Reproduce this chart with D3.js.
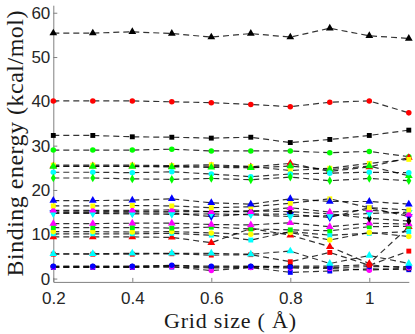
<!DOCTYPE html>
<html>
<head>
<meta charset="utf-8">
<script src="https://cdn.jsdelivr.net/npm/d3@7"></script>
<style>
  body { margin: 0; background: #fff; }
  .axis path, .axis line { stroke: #808080; }
  .axis text { font-family: "Liberation Sans", Arial, sans-serif; font-size: 17px; fill: #262626; }
  .title { font-family: "Liberation Serif", "DejaVu Serif", serif; fill: #1a1a1a; }
</style>
</head>
<body>
<script>
// grid sizes (x values)
const gridSize = [0.2, 0.3, 0.4, 0.5, 0.6, 0.7, 0.8, 0.9, 1.0, 1.1];

// binding energies, one array per complex
const blackTri   = [55.4, 55.4, 55.7, 55.3, 54.5, 55.3, 54.5, 56.5, 54.8, 54.2];
const redCircle  = [40.1, 40.1, 40.1, 39.9, 39.7, 39.3, 38.8, 39.8, 40.1, 37.4];
const blackSq    = [32.3, 32.3, 32.0, 31.9, 31.7, 31.9, 30.7, 31.4, 32.3, 33.5];
const greenCircle= [29.0, 29.0, 29.0, 29.2, 28.8, 28.8, 28.8, 28.4, 28.7, 27.5];
const redTri1    = [25.4, 25.4, 25.4, 25.3, 25.4, 25.2, 26.0, 24.2, 25.2, 27.3];
const yellowSq1  = [25.6, 25.6, 25.6, 25.5, 25.7, 25.3, 24.4, 24.9, 26.0, 26.9];
const greenTri   = [25.3, 25.3, 25.3, 25.2, 25.1, 25.0, 25.4, 24.6, 25.4, 23.2];
const cyanCircle = [24.0, 24.0, 23.9, 24.1, 23.6, 23.0, 23.6, 23.8, 24.0, 23.9];
const greenDia   = [22.7, 22.7, 22.5, 22.4, 22.6, 22.3, 22.9, 22.1, 22.6, 22.1];
const blueSq     = [2.5, 2.5, 2.5, 2.6, 2.4, 2.5, 1.4, 1.7, 2.2, 2.0];
const blackCircle= [2.7, 2.7, 2.7, 2.9, 2.6, 2.7, 2.8, 2.8, 3.1, 2.3];
const magCircle  = [2.6, 2.6, 2.6, 2.7, 1.8, 2.5, 2.4, 2.3, 1.9, 2.4];
const blueCircle = [2.8, 2.8, 2.8, 3.0, 2.8, 2.8, 2.6, 2.5, 2.7, 2.7];
const redSq      = [5.5, 5.5, 5.5, 5.6, 5.3, 5.4, 3.8, 5.9, 3.0, 6.2];
const cyanTri    = [5.6, 5.6, 5.7, 5.7, 5.7, 5.5, 6.2, 3.4, 5.2, 3.4];
const redTri2    = [9.4, 9.4, 9.4, 9.3, 8.1, 11.3, 9.8, 7.2, 3.4, 11.7];
const cyanSq     = [10.1, 10.1, 10.1, 10.2, 9.8, 8.7, 10.6, 9.8, 10.2, 10.6];
const yellowCirc = [10.6, 10.6, 10.5, 10.6, 10.3, 10.0, 10.4, 8.7, 10.4, 9.5];
const greenSq    = [11.5, 11.5, 11.5, 11.4, 11.6, 11.2, 11.0, 10.8, 11.7, 11.8];
const magTri2    = [12.4, 12.4, 12.5, 12.5, 12.2, 12.1, 12.6, 11.7, 12.5, 12.3];
const blueTriDn  = [14.9, 14.9, 14.8, 14.8, 14.0, 14.6, 14.5, 13.8, 16.0, 14.0];
const cyanTriDn  = [14.7, 14.7, 14.6, 14.5, 14.6, 14.4, 14.0, 14.2, 14.7, 15.0];
const blackDia   = [15.2, 15.2, 15.1, 15.1, 15.1, 15.3, 15.1, 14.6, 13.6, 13.0];
const magTri1    = [15.4, 15.4, 15.4, 15.5, 15.1, 15.1, 16.0, 15.0, 15.5, 14.5];
const yellowSq2  = [16.4, 16.4, 16.5, 16.4, 16.0, 16.2, 17.0, 18.0, 16.0, 15.5];
const blueTri    = [17.6, 17.6, 17.7, 18.0, 17.1, 16.8, 18.0, 17.4, 17.4, 16.8];

const xTicks = [0.2, 0.4, 0.6, 0.8, 1];
const yTicks = [0, 10, 20, 30, 40, 50, 60];

// drawing order and marker style per series
const series = [
    {v: blackTri,    c: '#000000', m: 'tri'},
    {v: redCircle,   c: '#ff0000', m: 'circle'},
    {v: blackSq,     c: '#000000', m: 'square'},
    {v: greenCircle, c: '#00ff00', m: 'circle'},
    {v: redTri1,     c: '#ff0000', m: 'tri'},
    {v: yellowSq1,   c: '#ffff00', m: 'square'},
    {v: greenTri,    c: '#00ff00', m: 'tri'},
    {v: cyanCircle,  c: '#00ffff', m: 'circle'},
    {v: greenDia,    c: '#00ff00', m: 'diamond'},
    {v: blueSq,      c: '#0000ff', m: 'square'},
    {v: blackCircle, c: '#000000', m: 'circle'},
    {v: magCircle,   c: '#ff00ff', m: 'circle'},
    {v: blueCircle,  c: '#0000ff', m: 'circle'},
    {v: redSq,       c: '#ff0000', m: 'square'},
    {v: cyanTri,     c: '#00ffff', m: 'tri'},
    {v: redTri2,     c: '#ff0000', m: 'tri'},
    {v: cyanSq,      c: '#00ffff', m: 'square'},
    {v: yellowCirc,  c: '#ffff00', m: 'circle'},
    {v: greenSq,     c: '#00ff00', m: 'square'},
    {v: magTri2,     c: '#ff00ff', m: 'tri'},
    {v: blueTriDn,   c: '#0000ff', m: 'triDown'},
    {v: blackDia,    c: '#000000', m: 'diamond'},
    {v: cyanTriDn,   c: '#00ffff', m: 'triDown'},
    {v: magTri1,     c: '#ff00ff', m: 'tri'},
    {v: yellowSq2,   c: '#ffff00', m: 'square'},
    {v: blueTri,     c: '#0000ff', m: 'tri'}
];

const width = 415, height = 334;

const svg = d3.select('body')
    .append('svg')
    .attr('width', width)
    .attr('height', height);

const x = d3.scaleLinear()
    .domain([0.2, 1.1])
    .range([53.3, 408.8]);

const y = d3.scaleLinear()
    .domain([-0.75, 61.7])
    .range([281.9, 5.2]);

svg.append('g')
    .attr('class', 'x axis')
    .attr('transform', 'translate(0,' + y(-0.75) + ')')
    .call(d3.axisBottom(x)
        .tickValues(xTicks)
        .tickFormat(d3.format('~g'))
        .tickSizeInner(-4)
        .tickSizeOuter(0)
        .tickPadding(10));

svg.append('g')
    .attr('class', 'y axis')
    .attr('transform', 'translate(' + x(0.2) + ',0)')
    .call(d3.axisLeft(y)
        .tickValues(yTicks)
        .tickSizeInner(-4)
        .tickSizeOuter(0)
        .tickPadding(3));

const symbols = {
    tri: d3.symbol().type(d3.symbolTriangle).size(26),
    triDown: d3.symbol().type(d3.symbolTriangle).size(26),
    circle: d3.symbol().type(d3.symbolCircle).size(24),
    square: d3.symbol().type(d3.symbolSquare).size(24),
    diamond: d3.symbol().type(d3.symbolDiamond).size(22)
};

const line = d3.line()
    .x(function(d, i) { return x(gridSize[i]); })
    .y(function(d) { return y(d); });

series.forEach(function(s) {
    const g = svg.append('g');
    g.append('path')
        .attr('d', line(s.v))
        .attr('fill', 'none')
        .attr('stroke', '#000')
        .attr('stroke-opacity', 0.8)
        .attr('stroke-width', 1.2)
        .attr('stroke-dasharray', '6,4');
    g.selectAll('path.pt')
        .data(s.v)
        .enter()
        .append('path')
        .attr('class', 'pt')
        .attr('d', symbols[s.m]())
        .attr('fill', s.c)
        .attr('transform', function(d, i) {
            const rot = s.m === 'triDown' ? ' rotate(180)' : '';
            return 'translate(' + x(gridSize[i]) + ',' + y(d) + ')' + rot;
        });
});

svg.append('text')
    .attr('class', 'title')
    .attr('text-anchor', 'middle')
    .attr('x', 230)
    .attr('y', 328)
    .style('font-size', '22px')
    .attr('textLength', 132)
    .text('Grid size ( Å)');

svg.append('text')
    .attr('class', 'title')
    .attr('text-anchor', 'middle')
    .attr('transform', 'translate(23,143.5) rotate(-90)')
    .style('font-size', '24px')
    .attr('textLength', 266)
    .text('Binding energy (kcal/mol)');
</script>
</body>
</html>
